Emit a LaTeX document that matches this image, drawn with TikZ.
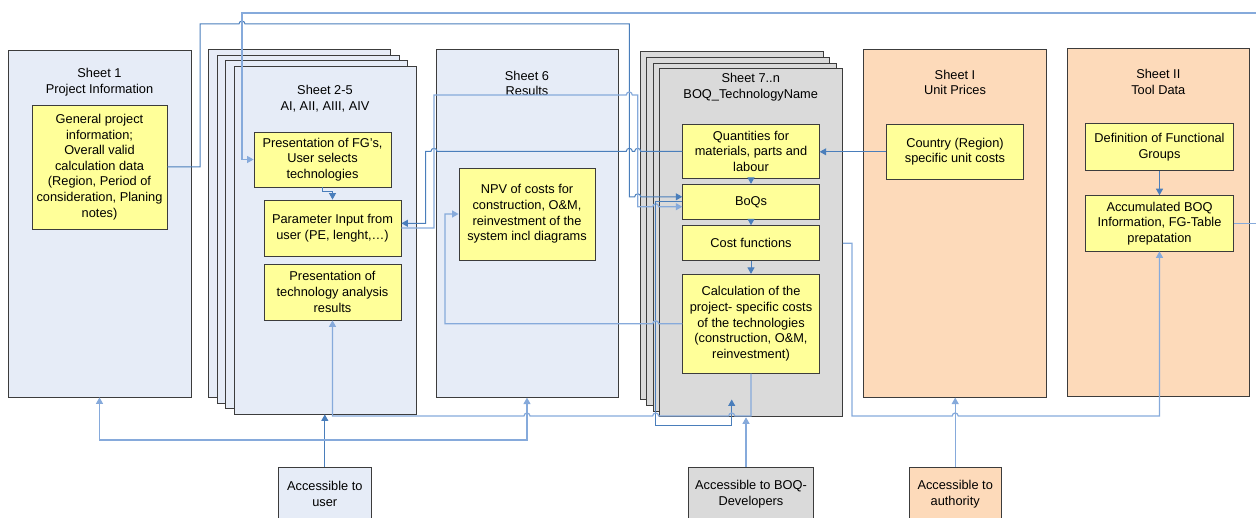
\documentclass[tikz,border=0pt]{standalone}
\usepackage{fontspec}
\setmainfont{Liberation Sans}
\usepackage{tikz}
\usetikzlibrary{arrows.meta,positioning}

\definecolor{sheetblue}{HTML}{E6ECF7}
\definecolor{sheetgray}{HTML}{DADADA}
\definecolor{sheetpeach}{HTML}{FDDABA}
\definecolor{itemyellow}{HTML}{FFFF99}
\definecolor{linkdark}{HTML}{4A7EBB}
\definecolor{linklight}{HTML}{86AADB}
\definecolor{edgegray}{HTML}{3C3C3C}

\begin{document}
\begin{tikzpicture}[x=1pt,y=-1pt]
		\tikzstyle{every node}=[font=\fontsize{12.8}{15.6}\selectfont,align=center,inner sep=0pt]
		\tikzstyle{sheetbox}=[draw=edgegray,line width=0.8pt,minimum width=182pt,minimum height=348pt]
		\tikzstyle{itembox}=[draw=edgegray,line width=0.8pt,fill=itemyellow,minimum width=137pt]
		\tikzstyle{accessbox}=[draw=edgegray,line width=0.8pt,minimum height=54pt]
		\tikzstyle{flow}=[draw=linkdark,line width=1pt]
		\tikzstyle{flowlt}=[draw=linklight,line width=1.2pt]
		\tikzstyle{tip}=[-{Triangle[length=6.5pt,width=7pt]}]
		
		\useasboundingbox (0,0) rectangle (1256,518);
		\clip (0,0) rectangle (1256,518);
		
		%% Sheet 1
		\node [sheetbox,fill=sheetblue,minimum width=183pt,minimum height=347pt] (s1) at (99.5,223.5) {};
		\node (t1) at (99.5,82) {Sheet 1\\Project Information};
		\node [itembox,minimum width=135pt,minimum height=124pt] (gen) at (99.5,167) {General project\\information;\\Overall valid\\calculation data\\(Region, Period of\\consideration, Planing\\notes)};
		
		%% Sheet 2-5
		\foreach \k/\n in {0/a,1/b,2/c,3/d}
			\node [sheetbox,fill=sheetblue] (s2\n) at (299.5+8.5*\k,223.5+5.5*\k) {};
		\node (t2) at (325,98.7) {Sheet 2-5\\AI, AII, AIII, AIV};
		\node [itembox,minimum height=55pt] (fg) at (322.5,159.5) {Presentation of FG’s,\\User selects\\technologies};
		\node [itembox,minimum height=56pt] (param) at (332.5,228) {Parameter Input from\\user (PE, lenght,…)};
		\node [itembox,minimum height=56pt] (pres) at (332.5,292) {Presentation of\\technology analysis\\results};
		
		%% Sheet 6
		\node [sheetbox,fill=sheetblue] (s6) at (527,223.2) {};
		\node (t6) at (527,83.5) {Sheet 6\\Results};
		\node [itembox,minimum width=136pt,minimum height=92pt] (npv) at (527,214) {NPV of costs for\\construction, O\&M,\\reinvestment of the\\system incl diagrams};
		
		%% Sheet 7..n
		\foreach \k/\n in {0/a,1/b,2/c,3/d}
			\node [sheetbox,fill=sheetgray,minimum width=183pt] (s7\n) at (731.5+6.5*\k,225.5+5.8*\k) {};
		\node (t7) at (750.7,87) {Sheet 7..n\\BOQ\_TechnologyName};
		\node [itembox,minimum width=136.6pt,minimum height=54pt] (qty) at (751,151.3) {Quantities for\\materials, parts and\\labour};
		\node [itembox,minimum width=136.6pt,minimum height=35pt] (boqs) at (751,201.8) {BoQs};
		\node [itembox,minimum width=136.6pt,minimum height=35pt] (cost) at (751,243.2) {Cost functions};
		\node [itembox,minimum width=136.6pt,minimum height=99pt] (calc) at (751,323.8) {Calculation of the\\project- specific costs\\of the technologies\\(construction, O\&M,\\reinvestment)};
		
		%% Sheet I and Sheet II
		\node [sheetbox,fill=sheetpeach,minimum width=183.4pt] (sI) at (955,223.2) {};
		\node (tI) at (955,82.3) {Sheet I\\Unit Prices};
		\node [itembox,minimum width=136.6pt,minimum height=55pt] (country) at (955,151.8) {Country (Region)\\specific unit costs};
		\node [sheetbox,fill=sheetpeach] (sII) at (1158.3,222.3) {};
		\node (tII) at (1158.3,81.7) {Sheet II\\Tool Data};
		\node [itembox,minimum width=147.6pt,minimum height=47.4pt] (fgdef) at (1159.5,147) {Definition of Functional\\Groups};
		\node [itembox,minimum width=147.6pt,minimum height=55.3pt] (accum) at (1159.5,223.3) {Accumulated BOQ\\Information, FG-Table\\prepatation};
		
		%% Access boxes
		\node [accessbox,fill=sheetblue,minimum width=92.3pt] (user) at (324.8,494) {Accessible to\\user};
		\node [accessbox,fill=sheetgray,minimum width=124.6pt] (dev) at (751,494) {Accessible to BOQ-\\Developers};
		\node [accessbox,fill=sheetpeach,minimum width=91.7pt] (auth) at (955.2,494) {Accessible to\\authority};
		
		%% Links
		\draw [flow,tip] (gen.east) -- (200,167) -- (200,24) -- (239,24) arc[start angle=180,end angle=0,radius=3pt] -- (629.3,24) -- (629.3,196.8) -- (634.7,196.8) arc[start angle=180,end angle=0,radius=3pt] -- ([yshift=5pt]boqs.west);
		\draw [flowlt,tip] (accum.east) -- (1262,223.3) -- (1262,13) -- (242,13) -- (242,159.5) -- (fg.west);
		\draw [flow,tip] (qty.west) -- (640.7,151.3) arc[start angle=0,end angle=180,radius=3pt] -- (632.3,151.3) arc[start angle=0,end angle=180,radius=3pt] -- (437,151.3) arc[start angle=0,end angle=180,radius=3pt] -- (425.7,151.3) -- (425.7,223.3) -- ([yshift=4.7pt]param.east);
		\draw [flowlt,tip] (param.east) -- (434,228) -- (434,95) -- (626.3,95) arc[start angle=180,end angle=0,radius=3pt] -- (637.7,95) -- (637.7,206.7) -- (652.7,206.7) arc[start angle=180,end angle=0,radius=3pt] -- ([yshift=-4.9pt]boqs.west);
		\draw [flow,tip] (country.west) -- (country.west -| qty.east);
		\draw [flow,tip] (qty.south) -- (boqs.north);
		\draw [flow,tip] (boqs.south) -- (cost.north);
		\draw [flow,tip] (cost.south) -- (calc.north);
		\draw [flow,tip] (fgdef.south) -- (accum.north);
		\draw [flow,tip] (fg.south) -- ++(0,4) -| (param.north);
		\draw [flow,tip] (boqs.west) -- (655.7,201.8) -- (655.7,426) -- (731.7,426) -- (731.7,399.5);
		\draw [flowlt,tip] (calc.west) -- (658.7,323.8) arc[start angle=0,end angle=180,radius=3pt] -- (445,323.8) -- (445,214) -- (npv.west);
		\draw [flowlt,tip] (calc.south) -- (751,416) -- (734.7,416) arc[start angle=0,end angle=180,radius=3pt] -- (658.7,416) arc[start angle=0,end angle=180,radius=3pt] -- (530,416) arc[start angle=0,end angle=180,radius=3pt] -- (332.5,416) -- (pres.south);
		\draw [flowlt,tip] (s7d.east |- cost.east) -- (852,243.2) -- (852,416) -- (952.2,416) arc[start angle=180,end angle=0,radius=3pt] -- (1159.5,416) -- (accum.south);
		
		%% Access links
		\draw [flow,tip] (user.north) -- (user.north |- s2d.south);
		\coordinate (uj) at (324.8,440);
		\draw [flowlt,tip] (uj) -| (s1.south);
		\draw [flowlt,tip] (uj) -| (s6.south);
		\coordinate (devtop) at ([xshift=-5pt]dev.north);
		\draw [flowlt,tip] (devtop) -- (devtop |- s7d.south);
		\draw [flowlt,tip] (auth.north) -- (auth.north |- sI.south);
		
\end{tikzpicture}
\end{document}
